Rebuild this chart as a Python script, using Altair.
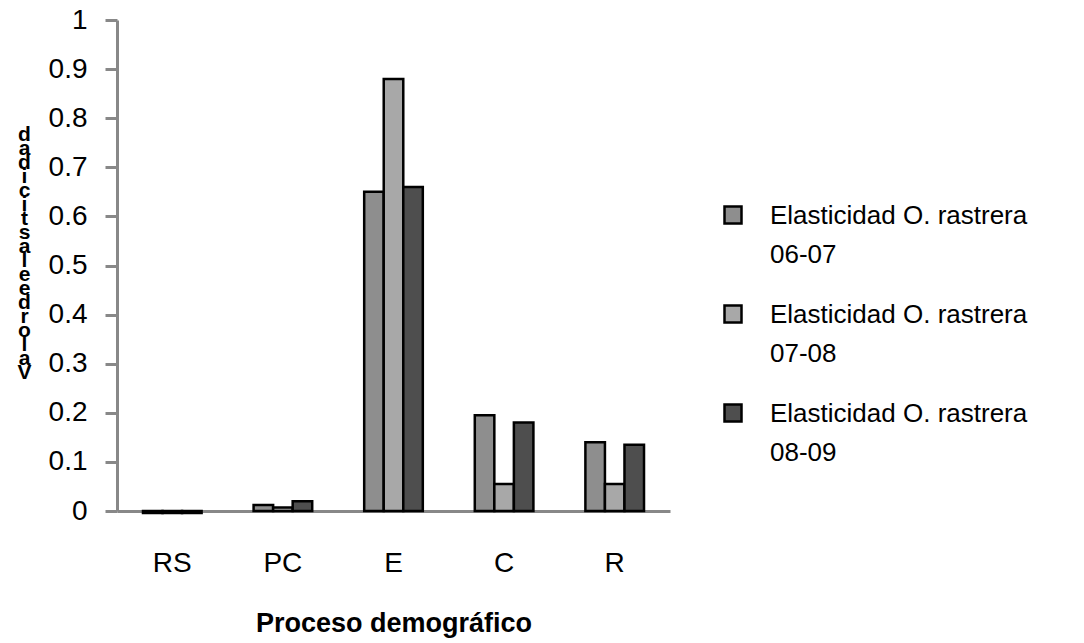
import altair as alt
import pandas as pd

categories = ["RS", "PC", "E", "C", "R"]
series = ["06-07", "07-08", "08-09"]
v_0607 = [-0.004, 0.012, 0.65, 0.195, 0.14]
v_0708 = [-0.004, 0.007, 0.88, 0.055, 0.055]
v_0809 = [-0.004, 0.02, 0.66, 0.18, 0.135]
colors = ["#8e8e8e", "#a8a8a8", "#4e4e4e"]
y_title = "Valor de elasticidad"
# the reference stacks the title letters upright, last letter on top
y_title_letters = [ch for ch in reversed(y_title) if ch != " "]

rows = []
for s, vals in zip(series, [v_0607, v_0708, v_0809]):
    for c, v in zip(categories, vals):
        rows.append({"cat": c, "serie": s, "val": v})
df = pd.DataFrame(rows)

FONT = "Liberation Sans"

chart = alt.Chart(df).mark_bar(stroke="black", strokeWidth=2.5, clip=False).encode(
    x=alt.X("cat:N", sort=categories,
            scale=alt.Scale(paddingInner=0.47, paddingOuter=0.235),
            axis=alt.Axis(title="Proceso demográfico", labelAngle=0, ticks=False,
                          labelFontSize=28, labelPadding=38, labelFont=FONT,
                          labelColor="black",
                          titleFont=FONT, titleFontSize=27, titleFontWeight="bold",
                          titleColor="black", titlePadding=33,
                          domainColor="#888888", domainWidth=3)),
    xOffset=alt.XOffset("serie:N", sort=series),
    y=alt.Y("val:Q", scale=alt.Scale(domain=[0, 1], nice=False, zero=True),
            axis=alt.Axis(title=y_title_letters, values=[i / 10 for i in range(11)],
                          format="~g", labelFontSize=28, labelFont=FONT, labelColor="black",
                          labelPadding=18, tickSize=12, tickWidth=3, tickColor="#888888",
                          domainColor="#888888", domainWidth=3, grid=False,
                          titleFont=FONT, titleFontSize=21, titleFontWeight="bold",
                          titleColor="black", titleAngle=0, titleX=-93, titleY=103,
                          titleLineHeight=14,
                          titleAlign="center", titleBaseline="top")),
    fill=alt.Fill("serie:N", sort=series,
                  scale=alt.Scale(domain=series, range=colors),
                  legend=alt.Legend(title=None, orient="none", legendX=603, legendY=170,
                                    symbolType="M-1,0.4 L1,0.4 L1,2.4 L-1,2.4 Z",
                                    symbolSize=289,
                                    symbolStrokeColor="black", symbolStrokeWidth=2.5,
                                    labelFont=FONT, labelFontSize=26, labelColor="black",
                                    labelOffset=24, rowPadding=21,
                                    labelBaseline="top", labelLimit=400, padding=0,
                                    labelExpr="['Elasticidad O. rastrera', datum.label]")),
).properties(
    width=553, height=491,
    autosize=alt.AutoSizeParams(type="none"),
    padding={"left": 117, "top": 20, "right": 414, "bottom": 132},
).configure(
    background="white",
    view=alt.ViewConfig(stroke=None),
    style={"guide-label": {"lineHeight": 39}},
)

chart.save("out.html", embed_options={"renderer": "svg", "actions": False})
